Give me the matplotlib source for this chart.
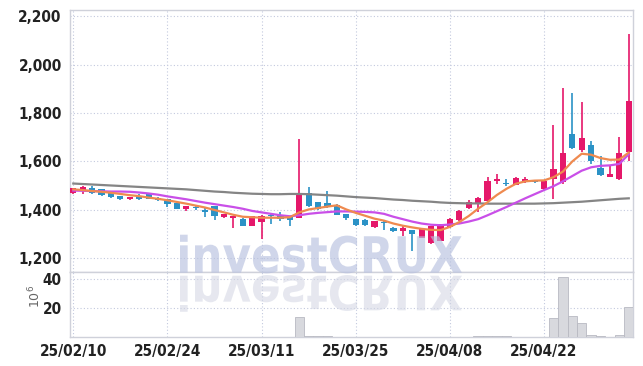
import matplotlib
matplotlib.use("Agg")
import matplotlib.pyplot as plt
import numpy as np
from matplotlib import font_manager
from matplotlib.font_manager import FontProperties
from matplotlib.patches import PathPatch
from matplotlib.textpath import TextPath
from matplotlib.transforms import Affine2D, IdentityTransform

# tick labels every 10 trading days
date_ticks = [0, 10, 20, 30, 40, 50]
date_labels = ["25/02/10", "25/02/24", "25/03/11", "25/03/25", "25/04/08", "25/04/22"]

opens = [1472, 1478, 1492, 1485, 1472, 1456, 1445, 1458, 1464, 1451,
         1444, 1427, 1404, 1414, 1400, 1415, 1371, 1367, 1363, 1334,
         1350, 1378, 1378, 1372, 1368, 1472, 1431, 1427, 1422, 1382,
         1361, 1360, 1329, 1351, 1327, 1312, 1316, 1286, 1262, 1272,
         1330, 1358, 1409, 1423, 1437, 1518, 1512, 1503, 1520, 1520,
         1485, 1529, 1515, 1712, 1648, 1667, 1572, 1538, 1527, 1639]
highs = [1492, 1500, 1499, 1487, 1474, 1458, 1455, 1464, 1466, 1453,
         1446, 1430, 1417, 1416, 1410, 1417, 1384, 1377, 1365, 1376,
         1379, 1382, 1391, 1376, 1693, 1496, 1433, 1478, 1424, 1384,
         1363, 1362, 1355, 1353, 1329, 1338, 1318, 1322, 1335, 1343,
         1365, 1398, 1440, 1453, 1534, 1548, 1527, 1535, 1537, 1522,
         1522, 1750, 1905, 1882, 1847, 1685, 1623, 1581, 1703, 2126]
lows = [1464, 1464, 1466, 1458, 1450, 1440, 1442, 1443, 1445, 1437,
        1414, 1402, 1396, 1398, 1372, 1357, 1368, 1325, 1332, 1332,
        1282, 1341, 1354, 1334, 1366, 1414, 1398, 1410, 1378, 1360,
        1334, 1335, 1327, 1316, 1310, 1292, 1232, 1284, 1260, 1270,
        1325, 1356, 1405, 1392, 1435, 1508, 1500, 1501, 1513, 1512,
        1483, 1444, 1506, 1650, 1640, 1590, 1540, 1536, 1524, 1602]
closes = [1489, 1496, 1469, 1462, 1453, 1445, 1453, 1445, 1447, 1443,
          1423, 1404, 1415, 1407, 1393, 1375, 1382, 1375, 1334, 1374,
          1377, 1373, 1364, 1358, 1468, 1416, 1403, 1415, 1380, 1366,
          1336, 1337, 1353, 1347, 1312, 1326, 1300, 1320, 1333, 1341,
          1361, 1396, 1431, 1451, 1520, 1527, 1508, 1533, 1529, 1514,
          1520, 1571, 1634, 1657, 1696, 1602, 1543, 1547, 1637, 1850]

# volume in millions
volumes = [0.2, 0.2, 0.2, 0.1, 0.1, 0.1, 0.1, 0.1, 0.1, 0.1,
           0.1, 0.1, 0.1, 0.1, 0.1, 0.2, 0.1, 0.1, 0.1, 0.1,
           0.2, 0.1, 0.1, 0.2, 13.8, 0.7, 0.6, 0.5, 0.2, 0.1,
           0.1, 0.1, 0.1, 0.1, 0.1, 0.1, 0.2, 0.1, 0.2, 0.2,
           0.2, 0.2, 0.2, 0.4, 0.5, 0.5, 0.4, 0.2, 0.2, 0.1,
           0.2, 13.0, 41.0, 14.5, 9.3, 1.4, 0.8, 0.3, 1.2, 20.3]

ma_short = [1485, 1482, 1478, 1475, 1471, 1466, 1461, 1457, 1451, 1446,
            1440, 1433, 1426, 1418, 1410, 1400, 1390, 1380, 1372, 1370,
            1368, 1368, 1368, 1370, 1390, 1402, 1408, 1414, 1419, 1402,
            1388, 1376, 1364, 1356, 1344, 1335, 1328, 1322, 1318, 1317,
            1330, 1350, 1375, 1405, 1432, 1462, 1487, 1508, 1518, 1521,
            1522, 1535, 1558, 1600, 1632, 1628, 1614, 1607, 1608, 1637]
ma_mid = [1480, 1479, 1478, 1477, 1476, 1476, 1475, 1472, 1468, 1463,
          1456, 1450, 1444, 1437, 1430, 1424, 1418, 1412, 1405, 1396,
          1390, 1384, 1378, 1374, 1378, 1384, 1388, 1391, 1394, 1394,
          1393, 1392, 1390, 1384, 1372, 1362, 1352, 1344, 1339, 1337,
          1340, 1344, 1352, 1362, 1378, 1395, 1412, 1430, 1448, 1465,
          1482, 1498, 1518, 1540, 1562, 1576, 1582, 1584, 1590, 1630]
ma_long = [1509, 1507, 1505, 1503, 1501, 1499, 1497, 1495, 1493, 1491,
           1489, 1487, 1485, 1482, 1479, 1476, 1474, 1471, 1469, 1467,
           1466, 1465, 1465, 1466, 1466, 1465, 1463, 1461, 1459, 1456,
           1453, 1451, 1449, 1446, 1443, 1441, 1438, 1436, 1434, 1431,
           1429, 1428, 1427, 1427, 1426, 1426, 1426, 1426, 1426, 1426,
           1427, 1428, 1430, 1432, 1434, 1437, 1440, 1443, 1446, 1448]

UP = "#e5186a"
DOWN = "#2b92c6"
GRID = "#c3c9de"
SPINE = "#cfd1da"


def pick_tick_font():
    """narrow bold face for the tick labels, whatever is installed"""
    for f in font_manager.fontManager.ttflist:
        name = f.fname.lower()
        if ("narrow" in name or "condensed" in name) and "bold" in name and "oblique" not in name \
                and "italic" not in name:
            return FontProperties(fname=f.fname, size=11)
    names = {f.name for f in font_manager.fontManager.ttflist}
    fam = "Roboto" if "Roboto" in names else "DejaVu Sans"
    return FontProperties(family=fam, weight="bold", size=11)


tick_font = pick_tick_font()

fig = plt.figure(figsize=(6.43, 3.66), dpi=100)
ax = fig.add_axes([70 / 643, 94 / 366, 563 / 643, 262 / 366])
axv = fig.add_axes([70 / 643, 29 / 366, 563 / 643, 65 / 366], sharex=ax)

x = np.arange(len(closes))
o = np.array(opens)
c = np.array(closes)
up = c >= o
colors = np.where(up, UP, DOWN)
body_low = np.minimum(o, c)
body_h = np.maximum(np.abs(c - o), 3)

ax.vlines(x, lows, highs, colors=colors, linewidth=1.2, zorder=3)
ax.bar(x, body_h, bottom=body_low, width=0.66, color=colors, zorder=4)

ax.plot(x, ma_long, color="#858585", linewidth=1.6, zorder=5)
ax.plot(x, ma_mid, color="#c94fe8", linewidth=1.6, zorder=5)
ax.plot(x, ma_short, color="#ef8a4f", linewidth=1.6, zorder=6)

axv.bar(x, volumes, width=1.0, color="#d8d9de", edgecolor="#b8b9c2", linewidth=0.6, zorder=3)

ax.set_xlim(-0.35, 59.45)
ax.set_ylim(1144, 2225)
ax.set_yticks([1200, 1400, 1600, 1800, 2000, 2200])
ax.set_yticklabels(["1,200", "1,400", "1,600", "1,800", "2,000", "2,200"])
axv.set_ylim(0, 44.5)
axv.set_yticks([20, 40])
axv.set_xticks(date_ticks)
axv.set_xticklabels(date_labels)
ax.tick_params(axis="x", labelbottom=False)

for a in (ax, axv):
    a.grid(True, color=GRID, linestyle=(0, (1, 2)), linewidth=0.8, zorder=0)
    a.set_axisbelow(True)
    a.tick_params(length=0, pad=6, colors="#222222")
    for lbl in a.get_xticklabels() + a.get_yticklabels():
        lbl.set_fontproperties(tick_font)
    for s in a.spines.values():
        s.set_color(SPINE)
        s.set_linewidth(1.0)
axv.tick_params(axis="x", pad=5)

fig.text(35 / 643, 1 - 296 / 366, r"$10^6$", rotation=90, ha="center", va="center",
         fontsize=9, color="#666666")

# watermark with mirrored reflection, in pixel coordinates
tp = TextPath((0, 0), "investCRUX", size=1,
              prop=FontProperties(family="DejaVu Sans", weight="bold"))
ext = tp.get_extents()
sx = 282 / ext.width
sy = 38 / ext.y1
base = 366 - 272.7
mark = Affine2D().translate(-ext.x0, 0).scale(sx, sy).translate(180, base)
refl = Affine2D().translate(-ext.x0, 0).scale(sx, -sy * 0.95).translate(180, base - 3)
fig.patches.append(PathPatch(tp, transform=mark + IdentityTransform(), facecolor="#b8c1df",
                             edgecolor="none", alpha=0.65, zorder=10))
fig.patches.append(PathPatch(tp, transform=refl + IdentityTransform(), facecolor="#d2d5e3",
                             edgecolor="none", alpha=0.55, zorder=10))

fig.savefig("out.png", dpi=100)
